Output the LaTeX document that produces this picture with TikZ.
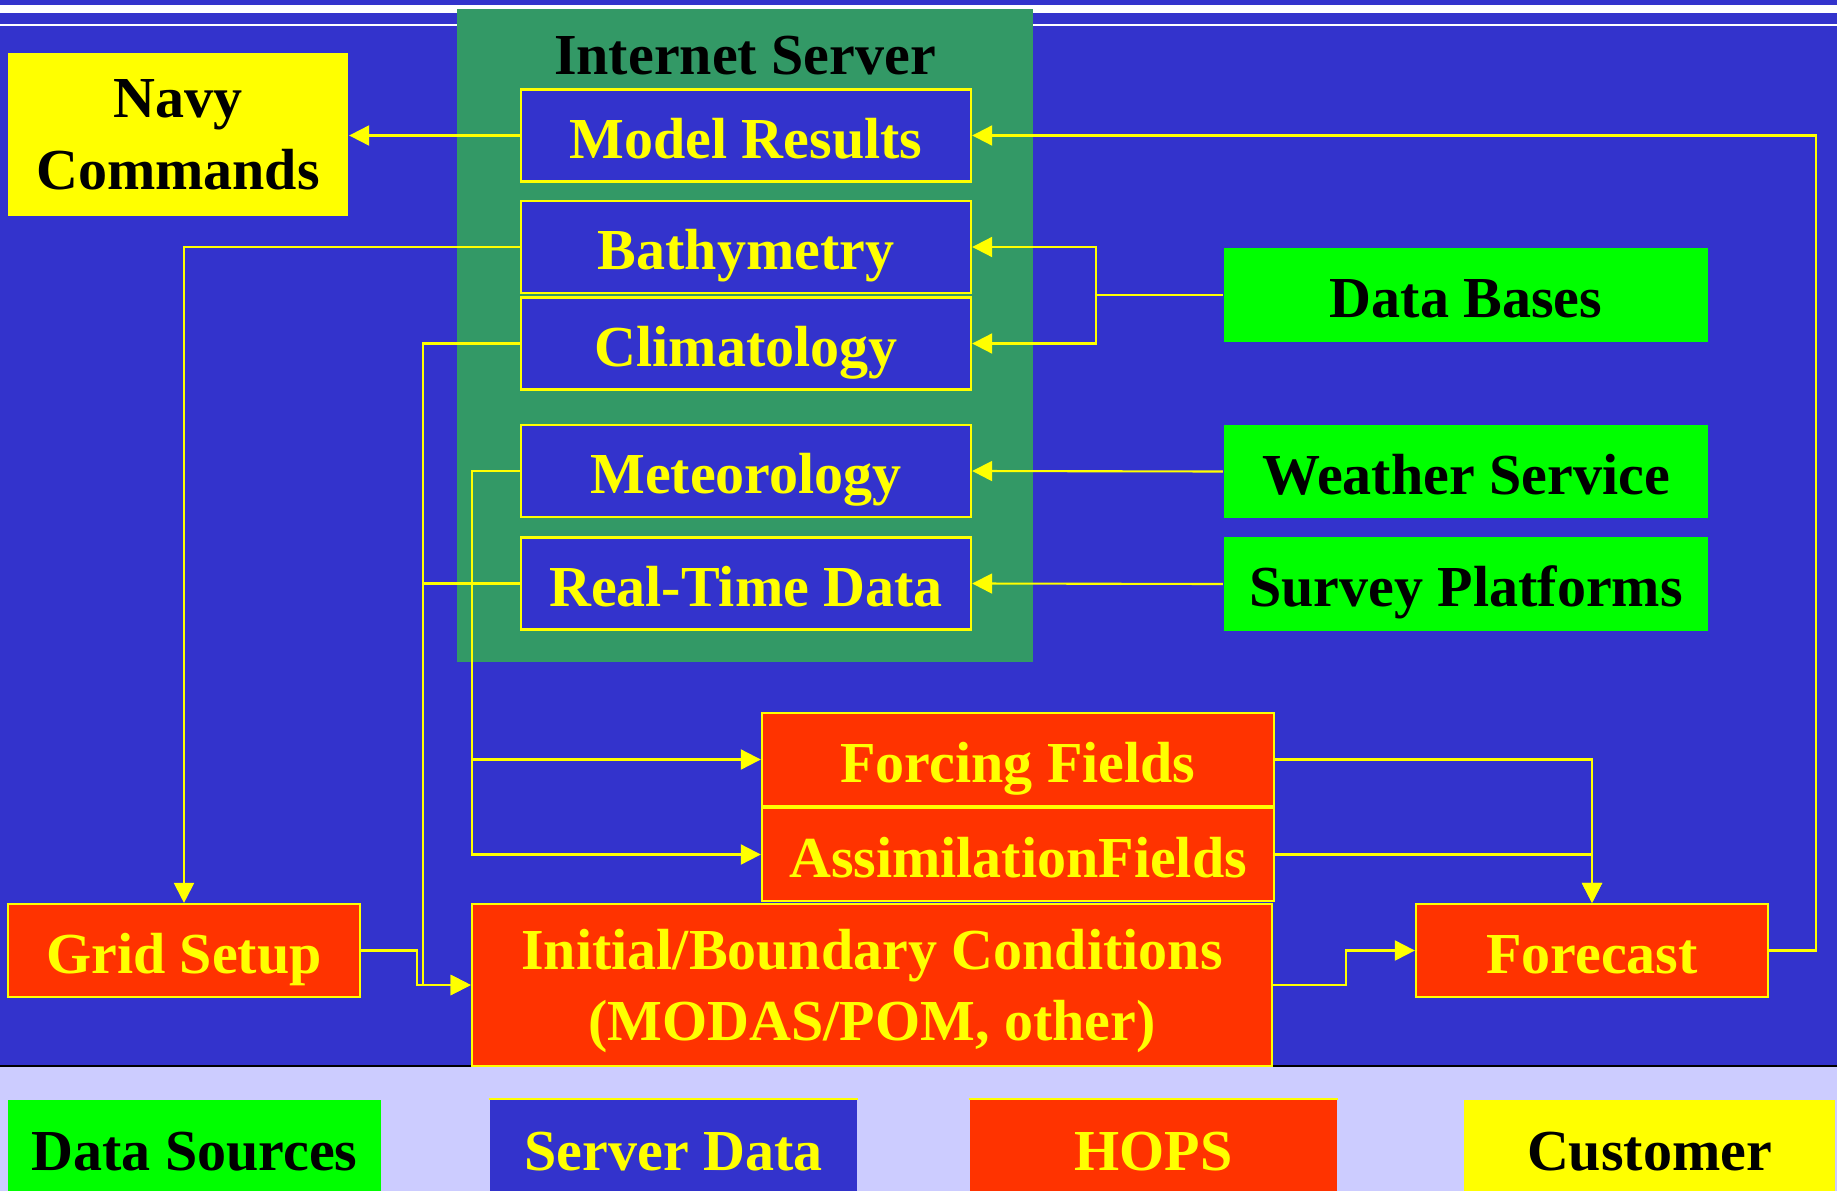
\documentclass[tikz,border=0pt]{standalone}
\usepackage{fontspec}
\setmainfont{Liberation Serif}
\usepackage{tikz}
\usetikzlibrary{arrows.meta}
\usepackage{xcolor}
\definecolor{slideblue}{HTML}{3333CC}
\definecolor{servergreen}{HTML}{339966}
\definecolor{srcgreen}{HTML}{00FF00}
\definecolor{hopsred}{HTML}{FF3300}
\definecolor{custyellow}{HTML}{FFFF00}
\definecolor{lavender}{HTML}{CCCCFF}
\newcommand{\boxfont}{\fontsize{16.5}{20.2}\selectfont\bfseries}

\begin{document}
\begin{tikzpicture}[
  x=0.01cm, y=-0.01cm,
  box/.style={inner sep=0pt, align=center, font=\boxfont, line width=0.6pt},
  oneline/.style={text height=16pt, text depth=3pt},
  srv/.style={box, oneline, draw=custyellow, fill=slideblue, text=custyellow, minimum width=4.5cm, minimum height=0.92cm},
  src/.style={box, oneline, fill=srcgreen, text=black, minimum width=4.84cm, minimum height=0.93cm},
  hops/.style={box, draw=custyellow, fill=hopsred, text=custyellow, minimum height=0.93cm},
  task/.style={hops, oneline},
  cust/.style={box, fill=custyellow, text=black},
  key/.style={box, text height=14pt, text depth=0pt, minimum height=0.91cm},
  arr/.style={-{Triangle[length=0.2cm, width=0.2cm]}, custyellow, line width=0.6pt},
  link/.style={custyellow, line width=0.6pt}
]
\useasboundingbox (0,0) rectangle (1837,1191);
\fill[slideblue] (0,0) rectangle (1837,1066);
\fill[white] (0,5) rectangle (1837,13);
\fill[white] (0,24) rectangle (1837,26);
\fill[lavender] (0,1066) rectangle (1837,1191);
\draw[black, line width=0.7pt] (0,1066) -- (1837,1066);
\fill[servergreen] (457,9) rectangle (1033,662);

\node[box, text=black] (title) at (745,56) {Internet Server};
\node[cust, text depth=-2pt, minimum width=3.4cm, minimum height=1.63cm] (navy) at (178,134.5) {Navy\\Commands};
\node[srv] (model) at (746,135.5) {Model Results};
\node[srv] (bathy) at (746,247) {Bathymetry};
\node[srv] (clim) at (746,343.5) {Climatology};
\node[srv] (meteo) at (746,471) {Meteorology};
\node[srv] (rtd) at (746,583.5) {Real-Time Data};
\node[src] (dbases) at (1466,295) {Data Bases};
\node[src] (weather) at (1466,471.5) {Weather Service};
\node[src] (survey) at (1466,584) {Survey Platforms};
\node[task, minimum width=5.12cm] (forcing) at (1018,759.5) {Forcing Fields};
\node[task, minimum width=5.12cm] (assim) at (1018,854.5) {AssimilationFields};
\node[task, minimum width=3.52cm] (grid) at (184,950.5) {Grid Setup};
\node[hops, text depth=-1pt, minimum width=8cm, minimum height=1.62cm] (init) at (872,985) {Initial/Boundary Conditions\\(MODAS/POM, other)};
\node[task, minimum width=3.52cm] (forecast) at (1592,950.5) {Forecast};

\node[key, fill=srcgreen, text=black, minimum width=3.73cm] (ksrc) at (194.5,1145.5) {Data Sources};
\node[key, fill=slideblue, text=custyellow, minimum width=3.67cm] (kserv) at (673.5,1145.5) {Server Data};
\node[key, fill=hopsred, text=custyellow, minimum width=3.67cm] (khops) at (1153.5,1145.5) {HOPS};
\node[key, fill=custyellow, text=black, minimum width=3.71cm] (kcust) at (1649.5,1145.5) {Customer};
\draw[link] (kserv.north west) -- (kserv.north east);
\draw[link] (khops.north west) -- (khops.north east);

\draw[arr] (model.west) -- (model.west -| navy.east);
\draw[arr] (forecast.east) -- ++(47,0) |- (model.east);
\draw[arr] (bathy.west) -| (grid.north);
\draw[arr] (dbases.west) -- ++(-127,0) |- (bathy.east);
\draw[arr] (dbases.west) -- ++(-127,0) |- (clim.east);
\draw[arr] (weather.west) -- (meteo.east);
\draw[arr] (survey.west) -- (rtd.east);
\draw[arr] (clim.west) -- ++(-97,0) |- (init.west);
\draw[link] (rtd.west) -- ++(-97,0);
\draw[arr] (meteo.west) -- ++(-48,0) |- (forcing.west);
\draw[arr] (meteo.west) -- ++(-48,0) |- (assim.west);
\draw[arr] (grid.east) -- ++(56,0) |- (init.west);
\draw[arr] (forcing.east) -| (forecast.north);
\draw[arr] (assim.east) -| (forecast.north);
\draw[arr] (init.east) -- ++(73,0) |- (forecast.west);
\end{tikzpicture}
\end{document}
